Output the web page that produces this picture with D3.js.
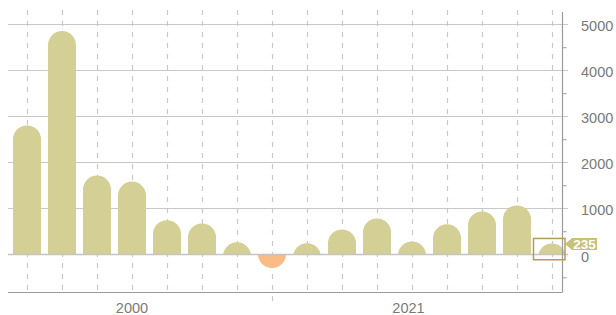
<!DOCTYPE html>
<html>
<head>
<meta charset="utf-8">
<script src="https://cdn.jsdelivr.net/npm/d3@7"></script>
<style>
  body { margin: 0; background: #fff; }
  text { font-family: "Liberation Sans", Arial, sans-serif; }
</style>
</head>
<body>
<svg id="chart" width="616" height="315"></svg>
<script>
// data
const categories = d3.range(16).map(i => 'c' + i)
const values = [2800, 4850, 1710, 1580, 740, 670, 260, -300, 240, 540, 780, 280, 650, 930, 1060, 235]
const yearLabels = ['2000', '2021']
const yearCenters = [3, 10.9]   // in category index units
const yearBreak = 7            // category that splits the two years
const majorTicks = [0, 1000, 2000, 3000, 4000, 5000]
const minorTicks = [-500, 500, 1500, 2500, 3500, 4500]
const highlightIdx = 15

const svg = d3.select('#chart')
const pLeft = 8, pRight = 562, pTop = 12, pBottom = 292

const x = d3.scaleBand()
  .domain(categories)
  .range([9.5, 569.5])
  .paddingInner(0.2)
  .paddingOuter(0.1)
const xc = i => x(categories[i]) + x.bandwidth() / 2

const y = d3.scaleLinear()
  .domain([-820, 5265])
  .range([pBottom, pTop])

const barColor = '#d4cf94', negColor = '#f9bc87', gridColor = '#c8c8c8'

// clip regions above / below zero
const defs = svg.append('defs')
defs.append('clipPath').attr('id', 'posClip').append('rect')
  .attr('x', 0).attr('y', 0).attr('width', 616).attr('height', y(0))
defs.append('clipPath').attr('id', 'negClip').append('rect')
  .attr('x', 0).attr('y', y(0)).attr('width', 616).attr('height', pBottom - y(0))

// horizontal grid on major ticks (extends past axis as tick)
svg.append('g').selectAll('line')
  .data(majorTicks.filter(d => d !== 0))
  .enter().append('line')
  .attr('x1', pLeft).attr('x2', pRight + 6)
  .attr('y1', d => Math.round(y(d)) + 0.5).attr('y2', d => Math.round(y(d)) + 0.5)
  .attr('stroke', gridColor).attr('stroke-width', 1.2)

// vertical dashed lines at each category
svg.append('g').selectAll('line')
  .data(categories)
  .enter().append('line')
  .attr('x1', (d, i) => Math.round(xc(i)) + 0.5).attr('x2', (d, i) => Math.round(xc(i)) + 0.5)
  .attr('y1', pTop - 2)
  .attr('y2', (d, i) => i === yearBreak ? pBottom + 15 : pBottom)
  .attr('stroke', gridColor).attr('stroke-width', 1.2)
  .attr('stroke-dasharray', '5,6')

// bars: rounded end, clipped at zero
const r = x.bandwidth() / 2
const bars = svg.append('g')
values.forEach((v, i) => {
  const bx = x(categories[i])
  if (v >= 0) {
    bars.append('rect')
      .attr('clip-path', 'url(#posClip)')
      .attr('x', bx).attr('width', x.bandwidth())
      .attr('y', y(v)).attr('height', y(0) - y(v) + 2 * r)
      .attr('rx', r).attr('ry', r)
      .attr('fill', barColor)
  } else {
    bars.append('rect')
      .attr('clip-path', 'url(#negClip)')
      .attr('x', bx).attr('width', x.bandwidth())
      .attr('y', y(0) - 2 * r).attr('height', y(v) - y(0) + 2 * r)
      .attr('rx', r).attr('ry', r)
      .attr('fill', negColor)
  }
})

// zero line and bottom axis line
svg.append('line')
  .attr('x1', pLeft).attr('x2', pRight + 6)
  .attr('y1', Math.round(y(0)) + 0.5).attr('y2', Math.round(y(0)) + 0.5)
  .attr('stroke', '#c4c4c4').attr('stroke-width', 1.5)
svg.append('line')
  .attr('x1', pLeft).attr('x2', pRight)
  .attr('y1', pBottom + 0.5).attr('y2', pBottom + 0.5)
  .attr('stroke', '#9a9a9a').attr('stroke-width', 1.2)

// right axis
const yAxis = d3.axisRight(y).tickValues(minorTicks).tickSize(4).tickFormat('')
const ag = svg.append('g')
  .attr('transform', 'translate(' + (pRight + 0.5) + ',0)')
  .call(yAxis)
ag.select('.domain').attr('stroke', '#9a9a9a').attr('stroke-width', 1.2)
  .attr('d', 'M0,' + pTop + 'V' + (pBottom + 0.5))
ag.selectAll('.tick line').attr('stroke', '#9a9a9a')

svg.append('g').selectAll('text')
  .data(majorTicks)
  .enter().append('text')
  .attr('x', 581).attr('y', d => y(d) + (d === 0 ? 7.5 : 6.5))
  .attr('font-size', 14.5).attr('fill', '#7a7a7a')
  .text(d => d)

// year labels
svg.append('g').selectAll('text')
  .data(yearLabels)
  .enter().append('text')
  .attr('x', (d, i) => xc(0) + yearCenters[i] * x.step())
  .attr('y', 312.5)
  .attr('text-anchor', 'middle')
  .attr('font-size', 14.5).attr('fill', '#7a7a7a')
  .text(d => d)

// highlight box around last bar + value tag
const hx = x(categories[highlightIdx])
svg.append('rect')
  .attr('x', hx - 4.5).attr('y', y(values[highlightIdx]) - 5)
  .attr('width', 31.5).attr('height', y(0) - y(values[highlightIdx]) + 10.5)
  .attr('fill', 'none').attr('stroke', '#b59a5a').attr('stroke-width', 1.5)

const ty = y(values[highlightIdx]) + 0.5
const tx = 565
const tag = svg.append('g').attr('transform', 'translate(' + tx + ',' + ty + ')')
tag.append('path')
  .attr('d', 'M0,0 L7,-6 H32 V6 H7 Z')
  .attr('fill', '#c9c07a')
tag.append('text')
  .attr('x', 19.5).attr('y', 5)
  .attr('text-anchor', 'middle')
  .attr('font-size', 13.5).attr('font-weight', 'bold').attr('fill', '#fff')
  .text(values[highlightIdx])
</script>
</body>
</html>
